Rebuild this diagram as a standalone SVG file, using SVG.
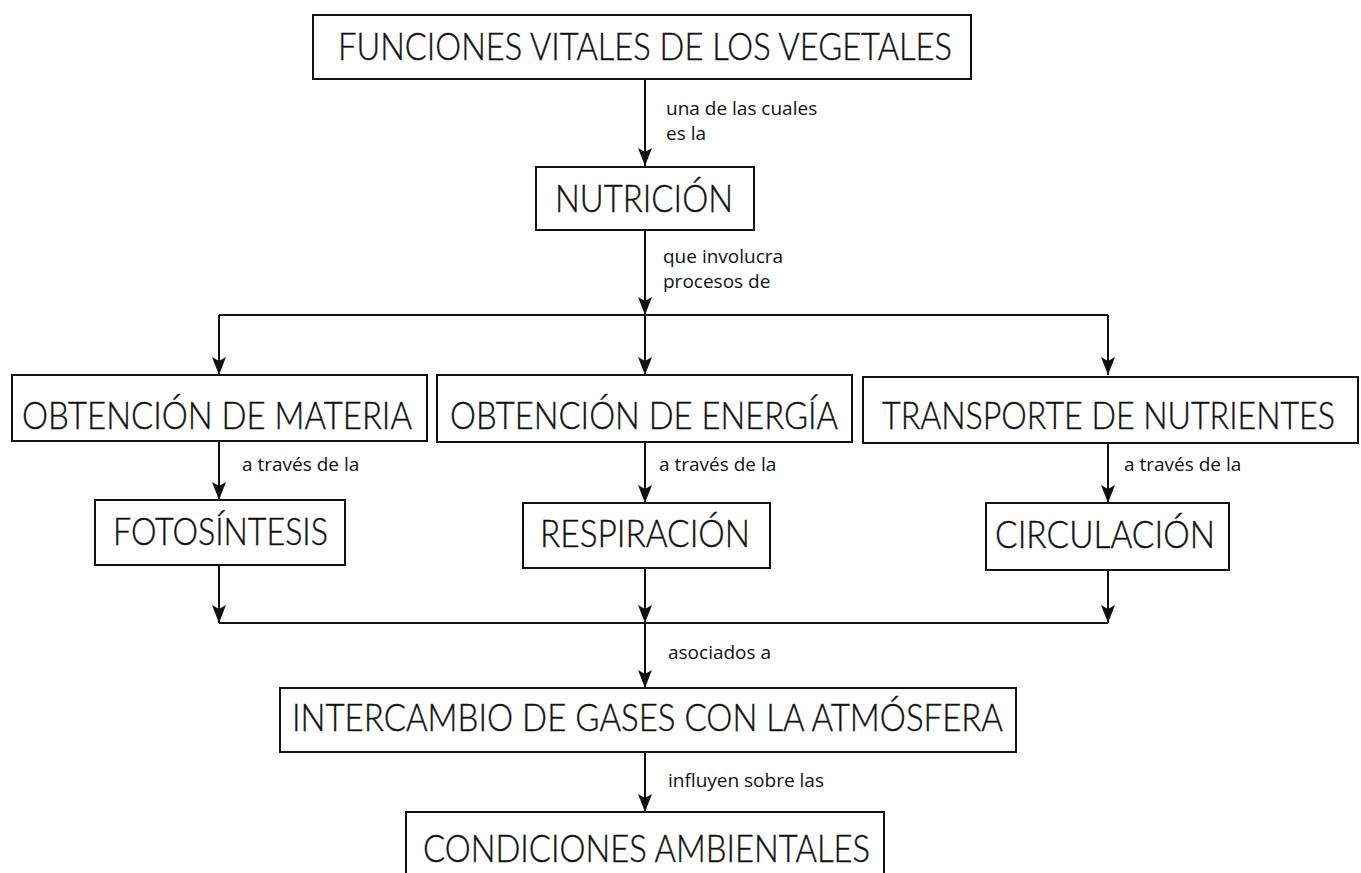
<svg xmlns="http://www.w3.org/2000/svg" width="1361" height="873" viewBox="0 0 1361 873">
<style>
.box{fill:#fff;stroke:#111;stroke-width:2}
.t{font-family:Lato,"Open Sans","Noto Sans","Liberation Sans",sans-serif;font-weight:300;font-size:38px;fill:#111;stroke:#111;stroke-width:0.4}
.l{font-family:"Open Sans","Noto Sans","Liberation Sans",sans-serif;font-size:19px;fill:#111}
.c{stroke:#111;stroke-width:2;fill:none}
</style>
<defs>
<marker id="ah" markerUnits="userSpaceOnUse" markerWidth="20" markerHeight="16" viewBox="-1 -8 20 16" refX="18" refY="0" orient="auto">
<path d="M0,-7 L18,0 L0,7 L4,0 Z" fill="#111"/>
</marker>
</defs>
<rect width="1361" height="873" fill="#fff"/>
<g id="connectors">
<line class="c" x1="645" y1="79" x2="645" y2="166" marker-end="url(#ah)"/>
<line class="c" x1="645" y1="230" x2="645" y2="315" marker-end="url(#ah)"/>
<line class="c" x1="219" y1="315" x2="1108" y2="315"/>
<line class="c" x1="219" y1="315" x2="219" y2="375" marker-end="url(#ah)"/>
<line class="c" x1="645" y1="315" x2="645" y2="375" marker-end="url(#ah)"/>
<line class="c" x1="1108" y1="315" x2="1108" y2="375" marker-end="url(#ah)"/>
<line class="c" x1="219" y1="441" x2="219" y2="500" marker-end="url(#ah)"/>
<line class="c" x1="645" y1="442" x2="645" y2="503" marker-end="url(#ah)"/>
<line class="c" x1="1108" y1="443" x2="1108" y2="503" marker-end="url(#ah)"/>
<line class="c" x1="219" y1="565" x2="219" y2="623" marker-end="url(#ah)"/>
<line class="c" x1="645" y1="568" x2="645" y2="623" marker-end="url(#ah)"/>
<line class="c" x1="1108" y1="570" x2="1108" y2="623" marker-end="url(#ah)"/>
<line class="c" x1="219" y1="623" x2="1108" y2="623"/>
<line class="c" x1="645" y1="623" x2="645" y2="688" marker-end="url(#ah)"/>
<line class="c" x1="645" y1="752" x2="645" y2="812" marker-end="url(#ah)"/>
<text class="l" x="666" y="115">una de las cuales</text>
<text class="l" x="666" y="140">es la</text>
<text class="l" x="663" y="263">que involucra</text>
<text class="l" x="663" y="288">procesos de</text>
<text class="l" x="242" y="471">a través de la</text>
<text class="l" x="659" y="471">a través de la</text>
<text class="l" x="1124" y="471">a través de la</text>
<text class="l" x="668" y="659">asociados a</text>
<text class="l" x="668" y="787">influyen sobre las</text>
</g>
<g id="n-funciones">
<rect class="box" x="313" y="15" width="658" height="64"/>
<text class="t" x="338" y="60" textLength="614" lengthAdjust="spacingAndGlyphs">FUNCIONES VITALES DE LOS VEGETALES</text>
</g>
<g id="n-nutricion">
<rect class="box" x="536" y="167" width="218" height="63"/>
<text class="t" x="555" y="212" textLength="178" lengthAdjust="spacingAndGlyphs">NUTRICIÓN</text>
</g>
<g id="n-materia">
<rect class="box" x="12" y="375" width="415" height="66"/>
<text class="t" x="22" y="429" textLength="390" lengthAdjust="spacingAndGlyphs">OBTENCIÓN DE MATERIA</text>
</g>
<g id="n-energia">
<rect class="box" x="437" y="375" width="415" height="67"/>
<text class="t" x="450" y="429" textLength="388" lengthAdjust="spacingAndGlyphs">OBTENCIÓN DE ENERGÍA</text>
</g>
<g id="n-transporte">
<rect class="box" x="863" y="377" width="495" height="66"/>
<text class="t" x="1335" y="429" text-anchor="end" textLength="453" lengthAdjust="spacingAndGlyphs">TRANSPORTE DE NUTRIENTES</text>
</g>
<g id="n-fotosintesis">
<rect class="box" x="95" y="500" width="250" height="65"/>
<text class="t" x="113" y="545" textLength="215" lengthAdjust="spacingAndGlyphs">FOTOSÍNTESIS</text>
</g>
<g id="n-respiracion">
<rect class="box" x="523" y="503" width="247" height="65"/>
<text class="t" x="540" y="547" textLength="210" lengthAdjust="spacingAndGlyphs">RESPIRACIÓN</text>
</g>
<g id="n-circulacion">
<rect class="box" x="986" y="503" width="243" height="67"/>
<text class="t" x="995" y="548" textLength="220" lengthAdjust="spacingAndGlyphs">CIRCULACIÓN</text>
</g>
<g id="n-intercambio">
<rect class="box" x="280" y="688" width="736" height="64"/>
<text class="t" x="292" y="731" textLength="711" lengthAdjust="spacingAndGlyphs">INTERCAMBIO DE GASES CON LA ATMÓSFERA</text>
</g>
<g id="n-condiciones">
<rect class="box" x="406" y="812" width="478" height="75"/>
<text class="t" x="423" y="862" textLength="447" lengthAdjust="spacingAndGlyphs">CONDICIONES AMBIENTALES</text>
</g>
</svg>
